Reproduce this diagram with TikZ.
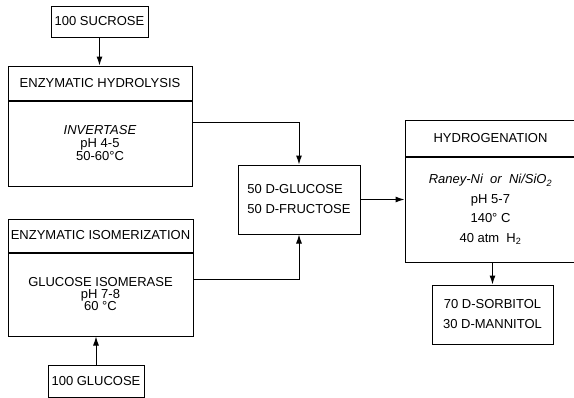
\documentclass[tikz,border=0pt]{standalone}
\usepackage{fontspec}
\setmainfont{Liberation Sans}
\usetikzlibrary{arrows.meta,positioning}

\begin{document}
\begin{tikzpicture}[x=1pt, y=-1pt,
  >={Latex[length=9pt,width=6pt]}, line width=1pt,
  tbox/.style={draw, inner sep=2pt, align=center,
               font=\fontsize{13}{15}\selectfont},
  hdr/.style={tbox, minimum height=34pt}]
\useasboundingbox (0,0) rectangle (574,397);
% left column
\node[tbox, minimum width=97pt, minimum height=31pt] (suc) at (99.5,21.5) {100 SUCROSE};
\node[hdr, minimum width=184pt] (hydh) at (100,83) {ENZYMATIC HYDROLYSIS};
\node[tbox, minimum width=184pt, minimum height=85pt, below=0pt of hydh,
      font=\fontsize{13}{13}\selectfont] (hydb) {\textit{INVERTASE}\\pH 4-5\\50-60°C};
\node[hdr, minimum width=185pt, minimum height=33pt, inner xsep=1pt] (isoh) at (100.5,235.5) {ENZYMATIC ISOMERIZATION};
\node[tbox, minimum width=185pt, minimum height=83pt, below=0pt of isoh,
      font=\fontsize{13}{12}\selectfont] (isob) {GLUCOSE ISOMERASE\\pH 7-8\\60 °C};
\node[tbox, minimum width=96pt, minimum height=32pt] (glc) at (96,381) {100 GLUCOSE};
% middle and right
\node[tbox, minimum width=122pt, minimum height=69pt, align=left,
      font=\fontsize{13}{20}\selectfont] (mix) at (299,199.5) {50 D-GLUCOSE\\50 D-FRUCTOSE};
\node[hdr, minimum width=171pt, minimum height=36pt] (hgh) at (490.5,138) {HYDROGENATION};
\node[tbox, minimum width=171pt, minimum height=105pt, below=0pt of hgh,
      font=\fontsize{13}{19.5}\selectfont] (hgb)
      {\textit{Raney-Ni\ \ or\ \ Ni/SiO\textsubscript{2}}\\pH 5-7\\140° C\\40 atm\ \ H\textsubscript{2}};
\node[tbox, minimum width=121pt, minimum height=59pt,
      font=\fontsize{13}{20}\selectfont] (prod) at (492.5,314.5) {70 D-SORBITOL\\30 D-MANNITOL};
% arrows
\draw[->] (suc.south) -- (suc.south |- hydh.north);
\draw[->] (glc.north) -- (glc.north |- isob.south);
\draw[->] ([yshift=21.5pt]hydb.east) -| (mix);
\draw[->] ([yshift=15.5pt]isob.east) -| (mix);
\draw[->] (mix.east) -- (mix.east -| hgb.west);
\draw[->] (hgb.south -| prod.north) -- (prod);
\end{tikzpicture}
\end{document}
